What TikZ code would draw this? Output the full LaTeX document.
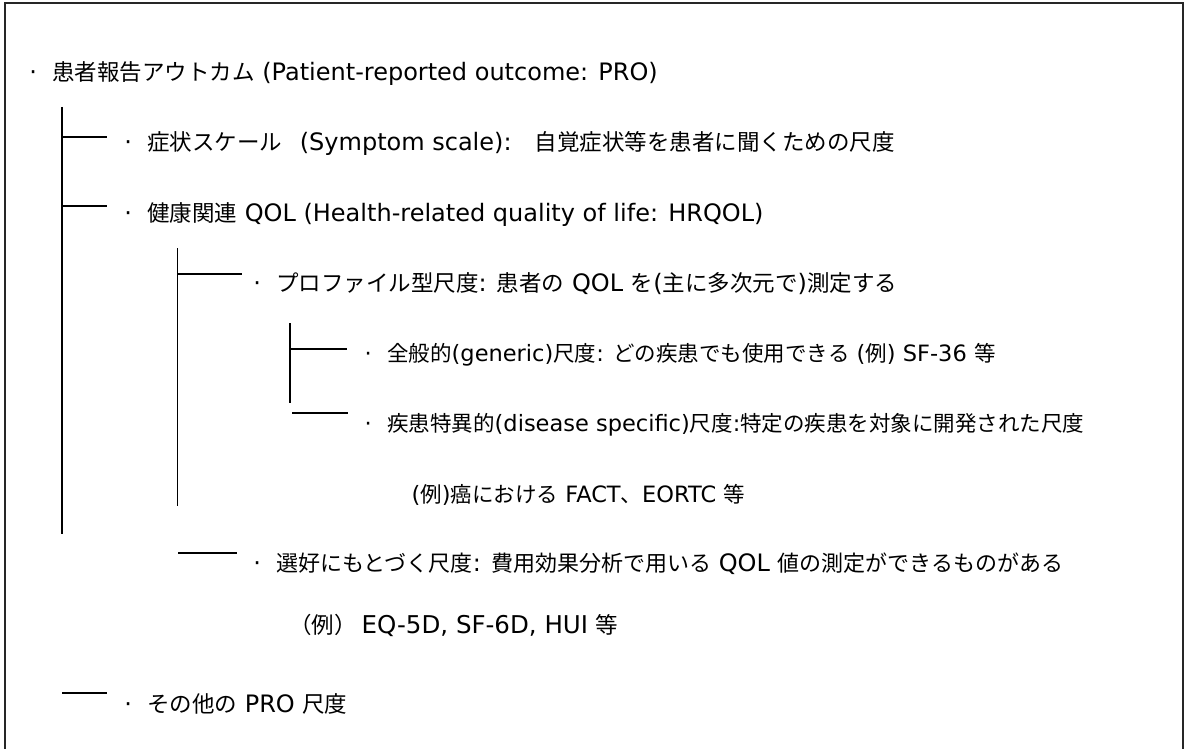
\documentclass[tikz,border=0pt]{standalone}
\usepackage{fontspec}
\setmainfont{DejaVu Sans}
\newfontfamily\jpfont{Noto Sans CJK JP}
\def\cjksz{22.5}
\newcommand\J[1]{{\jpfont\fontsize{\cjksz}{26}\selectfont #1}}
\newcommand\bul{\makebox[38pt]{\textperiodcentered}}
\begin{document}
\begin{tikzpicture}[x=1pt,y=-1pt,
  entry/.style={anchor=base west,inner sep=0pt,font=\fontsize{24}{28}\selectfont\def\cjksz{22.5}},
  entrys/.style={anchor=base west,inner sep=0pt,font=\fontsize{22.5}{27}\selectfont\def\cjksz{21.5}},
  entrym/.style={anchor=base west,inner sep=0pt,font=\fontsize{24}{28}\selectfont\def\cjksz{22}},
  conn/.style={line width=1.6pt,black},
  frame/.style={line width=2pt,black!85}]
\useasboundingbox (0,0) rectangle (1184,749);
\draw[frame] (4.5,749) -- (4.5,3) -- (1183,3) -- (1183,749);

% entries
\node[entry] (t1) at (14,80.5) {\bul\J{患者報告アウトカム} (Patient-reported outcome: PRO)};
\node[entry] (t2) at (109,151) {\bul\J{症状スケール}\hspace{10pt} (Symptom scale):\hspace{13pt} \J{自覚症状等を患者に聞くための尺度}};
\node[entry] (t3) at (109,221) {\bul\J{健康関連} QOL (Health-related quality of life: HRQOL)};
\node[entry] (t4) at (238,291) {\bul\J{プロファイル型尺度}: \J{患者の} QOL \J{を}(\J{主に多次元で})\J{測定する}};
\node[entrys] (t5) at (349,361.5) {\bul\J{全般的}(generic)\J{尺度}: \J{どの疾患でも使用できる} (\J{例}) SF-36 \J{等}};
\node[entrys] (t6) at (349,431.5) {\bul\J{疾患特異的}(disease specific)\J{尺度}:\J{特定の疾患を対象に開発された尺度}};
\node[entrys] (t7) at (411.5,502) {(\J{例})\J{癌における} FACT\J{、}EORTC \J{等}};
\node[entrym] (t8) at (238,571.5) {\bul\J{選好にもとづく尺度}: \J{費用効果分析で用いる} QOL \J{値の測定ができるものがある}};
\node[entry,font=\fontsize{24.5}{28}\selectfont] (t9) at (289,633) {\J{（例）}\hspace{5pt}EQ-5D, SF-6D, HUI \J{等}};
\node[entry] (t10) at (109,712) {\bul\J{その他の} PRO \J{尺度}};

% tree coordinates
\coordinate (a1) at (62,107);
\coordinate (a2) at (62,534);
\coordinate (b1) at (62,137);  \coordinate (b1e) at (107,137);
\coordinate (b2) at (62,206);  \coordinate (b2e) at (107,206);
\coordinate (b3) at (62,693);  \coordinate (b3e) at (107,693);
\coordinate (c1) at (177.5,248);
\coordinate (c2) at (177.5,506);
\coordinate (d1) at (177.5,274); \coordinate (d1e) at (242,274);
\coordinate (d2) at (178,553);   \coordinate (d2e) at (237,553);
\coordinate (e1) at (290,323);
\coordinate (e2) at (290,403);
\coordinate (f1) at (290,349); \coordinate (f1e) at (347,349);
\coordinate (f2) at (292,413); \coordinate (f2e) at (348,413);

\draw[conn] (a1) -- (a2);
\draw[conn] (b1) -- (b1e);
\draw[conn] (b2) -- (b2e);
\draw[conn] (b3) -- (b3e);
\draw[conn] (c1) -- (c2);
\draw[conn] (d1) -- (d1e);
\draw[conn] (d2) -- (d2e);
\draw[conn] (e1) -- (e2);
\draw[conn] (f1) -- (f1e);
\draw[conn] (f2) -- (f2e);
\end{tikzpicture}
\end{document}
